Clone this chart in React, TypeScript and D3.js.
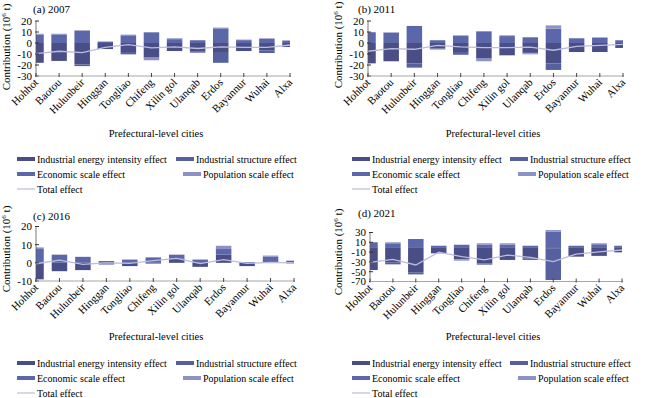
import * as d3 from 'd3';

const cities = ['Hohhot', 'Baotou', 'Hulunbeir', 'Hinggan', 'Tongliao', 'Chifeng', 'Xilin gol', 'Ulanqab', 'Erdos', 'Bayannur', 'Wuhai', 'Alxa'];

// 2007
const energy2007 = [-18, -16.3, -19.5, -5.5, -8.2, -13.3, -7.3, -8, -9, -7.3, -6.6, -3.6];
const structure2007 = [0, 0, -1.5, 0, -2.1, 0, 0, 0, -9, 0, -2.5, 0];
const economic2007 = [7.5, 7.8, 11, 1, 7, 9.7, 3.5, 2.5, 12.8, 2.6, 3.7, 2];
const population2007 = [0.9, 0.6, 0.6, 0.5, 0.6, -2.4, 0.8, -1.1, 1.2, 0.5, 0.6, 0.5];
const total2007 = [-9.6, -7.5, -8.7, -3.9, -1.5, -4.5, -3.6, -5, -3.6, -3.9, -3.9, -1.8];

// 2011
const energy2011 = [-18.5, -16.6, -18.7, -5.2, -8.2, -14.2, -11.2, -8.2, -18.5, -8.2, -8.2, -4.5];
const structure2011 = [0, 0, -3.1, 0, -2.5, 0, 0, -1.2, -6, 0, 0, 0];
const economic2011 = [9.8, 9.4, 15.5, 2.5, 6.4, 10.6, 6.3, 5.2, 13, 4.3, 4.6, 2.5];
const population2011 = [0, 0.3, -0.9, -0.8, 0.6, -2.4, 0.7, -0.9, 3, 0, 0.6, 0];
const total2011 = [-7.5, -5.1, -5.7, -2.1, -3.6, -4.2, -4.2, -3.8, -6.6, -3, -2.1, -1.2];

// 2016
const energy2016 = [-9.1, -4.6, -4, -0.9, -1.8, -0.4, 2.2, -2.2, 4.5, -1.8, 0, -0.3];
const structure2016 = [0, 0, 0, 0, 0, 0, 0, 0, 0, 0, 0, 0];
const economic2016 = [7.6, 4.5, 3.3, 1, 1.8, 3, 2.3, 1.8, 3.1, 0.4, 3.5, 1.2];
const population2016 = [0.9, 0, 0, 0, 0, 0, 0, 0, 1.8, 0, 0.5, 0];
const total2016 = [-0.5, 1.5, -0.8, 0, -0.3, 1.2, 2.5, -0.4, 1.8, -0.3, 0.2, 0];

// 2021
const energy2021 = [-46.5, -31.6, -52, -12.5, -24.8, -33, -26, -22.7, -2, -19.3, -16, -10.5];
const structure2021 = [0, -3.4, -3.5, 0, 0, -2.6, 0, -3.3, -65, 0, -2, 0];
const economic2021 = [10, 8, 16.7, 3, 5, 5.5, 5.5, 3, 32, 3, 6, 3];
const population2021 = [0, 2, 0, 0, -2.7, 2.5, 2.5, 0, 3, 0, 2, 0];
const total2021 = [-31, -24.8, -36.3, -10, -19.3, -26, -16, -20.6, -29.5, -14, -9.5, -5.7];

const ticks0711 = [20, 10, 0, -10, -20, -30];
const ticks2016 = [20, 10, 0, -10];
const ticks2021 = [30, 10, -10, -30, -50, -70];

const keys = ['energy', 'structure', 'economic', 'population'];
const colors = { energy: '#4a4e86', structure: '#56609f', economic: '#5b67a9', population: '#8d92c6' };
const totalColor = '#bcbcdd';
const legendLabels = {
  energy: 'Industrial energy intensity effect',
  structure: 'Industrial structure effect',
  economic: 'Economic scale effect',
  population: 'Population scale effect',
};
const font = '"Liberation Serif", "Times New Roman", serif';

const panels = [
  { id: 'a', title: '(a) 2007', e: energy2007, s: structure2007, c: economic2007, p: population2007, t: total2007,
    ticks: ticks0711, domain: [-30, 20], x0: 36, x1: 290, yTop: 21, yBot: 76,
    titleXY: [33, 13], yTitleXY: [10, 47], xTitleXY: [156, 137], legY: 159, legX: [17, 176, 183] },
  { id: 'b', title: '(b) 2011', e: energy2011, s: structure2011, c: economic2011, p: population2011, t: total2011,
    ticks: ticks0711, domain: [-30, 20], x0: 368, x1: 623, yTop: 21, yBot: 76,
    titleXY: [358, 13], yTitleXY: [342, 45], xTitleXY: [493, 137], legY: 159, legX: [352, 510, 518] },
  { id: 'c', title: '(c) 2016', e: energy2016, s: structure2016, c: economic2016, p: population2016, t: total2016,
    ticks: ticks2016, domain: [-10, 20], x0: 36, x1: 294, yTop: 226.5, yBot: 281,
    titleXY: [33, 220], yTitleXY: [10, 249], xTitleXY: [156, 340], legY: 363, legX: [17, 176, 183] },
  { id: 'd', title: '(d) 2021', e: energy2021, s: structure2021, c: economic2021, p: population2021, t: total2021,
    ticks: ticks2021, domain: [-70, 30], x0: 370, x1: 622, yTop: 232.5, yBot: 281.5,
    titleXY: [358, 217], yTitleXY: [342, 252], xTitleXY: [493, 340], legY: 363, legX: [352, 510, 518] },
];

function Panel({ cfg }) {
  const x = d3.scalePoint().domain(cities).range([cfg.x0, cfg.x1]);
  const y = d3.scaleLinear().domain(cfg.domain).range([cfg.yBot, cfg.yTop]);
  const rows = cities.map((city, i) => ({
    city, energy: cfg.e[i], structure: cfg.s[i], economic: cfg.c[i], population: cfg.p[i], total: cfg.t[i],
  }));
  const series = d3.stack().keys(keys).offset(d3.stackOffsetDiverging)(rows);
  const barW = 15.5;
  const line = d3.line().x(d => x(d.city)).y(d => y(d.total));
  const clipId = 'clip-' + cfg.id;
  const [lx1, lx2a, lx2b] = cfg.legX;
  const ly = cfg.legY;

  return (
    <g fontFamily={font} fill="#000">
      <defs>
        <clipPath id={clipId}>
          <rect x={cfg.x0} y={cfg.yTop - 20} width={cfg.x1 - cfg.x0} height={cfg.yBot - cfg.yTop + 40} />
        </clipPath>
      </defs>
      <text x={cfg.titleXY[0]} y={cfg.titleXY[1]} fontSize={11}>{cfg.title}</text>

      <g clipPath={`url(#${clipId})`}>
        {series.map(s => (
          <g key={s.key} fill={colors[s.key]}>
            {s.map((d, i) => {
              const h = Math.abs(y(d[0]) - y(d[1]));
              if (h < 0.01) return null;
              return <rect key={i} x={x(cities[i]) - barW / 2} y={Math.min(y(d[0]), y(d[1]))} width={barW} height={h} />;
            })}
          </g>
        ))}
      </g>
      <path d={line(rows)} fill="none" stroke={totalColor} strokeWidth={1.3} />

      {/* y axis */}
      <line x1={cfg.x0} x2={cfg.x0} y1={cfg.yTop} y2={cfg.yBot} stroke="#555" strokeWidth={0.8} />
      {cfg.ticks.map(t => (
        <g key={t}>
          <line x1={cfg.x0 - 1} x2={cfg.x0 + 3} y1={y(t)} y2={y(t)} stroke="#333" strokeWidth={1} />
          <text x={cfg.x0 - 4} y={y(t)} dy="0.35em" textAnchor="end" fontSize={11}>{t}</text>
        </g>
      ))}
      <text transform={`translate(${cfg.yTitleXY[0]},${cfg.yTitleXY[1]}) rotate(-90)`} textAnchor="middle" fontSize={11}>
        Contribution (10<tspan fontSize={7} dy={-4}>6</tspan><tspan dy={4}> t)</tspan>
      </text>

      {/* x axis */}
      <line x1={cfg.x0} x2={cfg.x1 + 1} y1={cfg.yBot} y2={cfg.yBot} stroke="#a6a6a6" strokeWidth={1} />
      {cities.map(c => (
        <g key={c}>
          <line x1={x(c)} x2={x(c)} y1={cfg.yBot - 3} y2={cfg.yBot + 1} stroke="#444" strokeWidth={1} />
          <text transform={`translate(${x(c) + 3},${cfg.yBot + 7}) rotate(-45)`} textAnchor="end" fontSize={11}>{c}</text>
        </g>
      ))}
      <text x={cfg.xTitleXY[0]} y={cfg.xTitleXY[1]} textAnchor="middle" fontSize={10.5}>Prefectural-level cities</text>

      {/* legend */}
      <g fontSize={10}>
        <rect x={lx1} y={ly - 2} width={18} height={4} fill={colors.energy} />
        <text x={lx1 + 20} y={ly} dy="0.35em">{legendLabels.energy}</text>
        <rect x={lx2a} y={ly - 2} width={18} height={4} fill={colors.structure} />
        <text x={lx2a + 20} y={ly} dy="0.35em">{legendLabels.structure}</text>
        <rect x={lx1} y={ly + 13} width={18} height={4} fill={colors.economic} />
        <text x={lx1 + 20} y={ly + 15} dy="0.35em">{legendLabels.economic}</text>
        <rect x={lx2b} y={ly + 13} width={18} height={4} fill={colors.population} />
        <text x={lx2b + 20} y={ly + 15} dy="0.35em">{legendLabels.population}</text>
        <line x1={lx1} x2={lx1 + 18} y1={ly + 30} y2={ly + 30} stroke={totalColor} strokeWidth={1.2} />
        <text x={lx1 + 20} y={ly + 30} dy="0.35em">Total effect</text>
      </g>
    </g>
  );
}

export default function App() {
  return (
    <svg width={650} height={398} style={{ position: 'absolute', left: 0, top: 0, background: '#fff' }}>
      {panels.map(p => <Panel key={p.id} cfg={p} />)}
    </svg>
  );
}
